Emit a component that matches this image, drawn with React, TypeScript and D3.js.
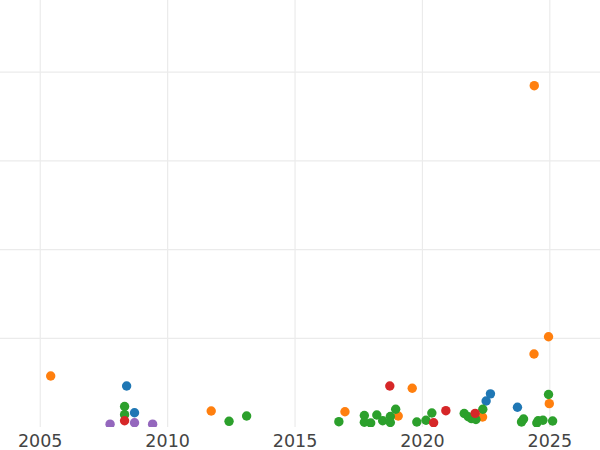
import React from "react";
import * as d3 from "d3";

// [year, value] pairs for each series
const blueSeries: [number, number][] = [
  [2008.39, 46.2], [2008.7, 16.1], [2022.5, 29.3], [2022.67, 37.4], [2023.73, 22.3],
];
const orangeSeries: [number, number][] = [
  [2005.41, 57.5], [2011.71, 18.0], [2016.96, 17.2], [2019.05, 12.4], [2019.6, 43.7],
  [2022.36, 11.3], [2024.39, 384.8], [2024.38, 82.3], [2024.95, 101.8], [2024.98, 26.3],
];
const greenSeries: [number, number][] = [
  [2008.31, 23.1], [2008.31, 13.9], [2012.41, 6.4], [2013.1, 12.4], [2016.72, 6.0],
  [2017.72, 13.0], [2017.72, 5.3], [2017.97, 4.5], [2018.21, 13.5], [2018.44, 7.1],
  [2018.74, 11.8], [2018.74, 5.1], [2018.95, 20.0], [2019.78, 5.6], [2020.14, 7.6],
  [2020.37, 15.8], [2021.64, 15.2], [2021.8, 11.6], [2021.93, 9.4], [2022.1, 8.5],
  [2022.37, 20.0], [2023.89, 5.7], [2023.97, 9.0], [2024.49, 4.5], [2024.54, 7.1],
  [2024.73, 7.6], [2025.11, 6.8], [2024.95, 36.6],
];
const redSeries: [number, number][] = [
  [2008.31, 7.1], [2018.72, 46.2], [2020.44, 4.8], [2020.92, 18.4], [2022.07, 15.4],
];
const purpleSeries: [number, number][] = [
  [2007.74, 3.2], [2008.7, 4.8], [2009.41, 3.2],
];

const seriesList = [
  { data: blueSeries, color: "#1f77b4" },
  { data: orangeSeries, color: "#ff7f0e" },
  { data: greenSeries, color: "#2ca02c" },
  { data: redSeries, color: "#d62728" },
  { data: purpleSeries, color: "#9467bd" },
];

const xTicks = [2005, 2010, 2015, 2020, 2025];
const yTicks = [100, 200, 300, 400];

const W = 600;
const H = 450;
const plotBottom = 427;

export default function App() {
  const x = d3.scaleLinear().domain([2003.42, 2026.97]).range([0, W]);
  const y = d3.scaleLinear().domain([0, 481.4]).range([plotBottom, 0]);

  return (
    <div style={{ position: "fixed", left: 0, top: 0 }}>
      <svg width={W} height={H} style={{ display: "block", background: "#fff" }}>
        <defs>
          <clipPath id="plotClip">
            <rect x={0} y={0} width={W} height={plotBottom} />
          </clipPath>
        </defs>
        <g>
          {xTicks.map((t) => (
            <line key={"gx" + t} x1={x(t)} x2={x(t)} y1={0} y2={plotBottom} stroke="#ebebeb" strokeWidth={1.2} />
          ))}
          {yTicks.map((t) => (
            <line key={"gy" + t} x1={0} x2={W} y1={y(t)} y2={y(t)} stroke="#ebebeb" strokeWidth={1.2} />
          ))}
        </g>
        <g clipPath="url(#plotClip)">
          {seriesList.map((s, si) => (
            <g key={si}>
              {s.data.map((d, i) => (
                <circle key={i} cx={x(d[0])} cy={y(d[1])} r={4.7} fill={s.color} />
              ))}
            </g>
          ))}
        </g>
        <g>
          {xTicks.map((t) => (
            <text
              key={"tx" + t}
              x={x(t)}
              y={447}
              textAnchor="middle"
              fontFamily="DejaVu Sans"
              fontSize={17.5}
              fill="#444"
            >
              {t}
            </text>
          ))}
        </g>
      </svg>
    </div>
  );
}
